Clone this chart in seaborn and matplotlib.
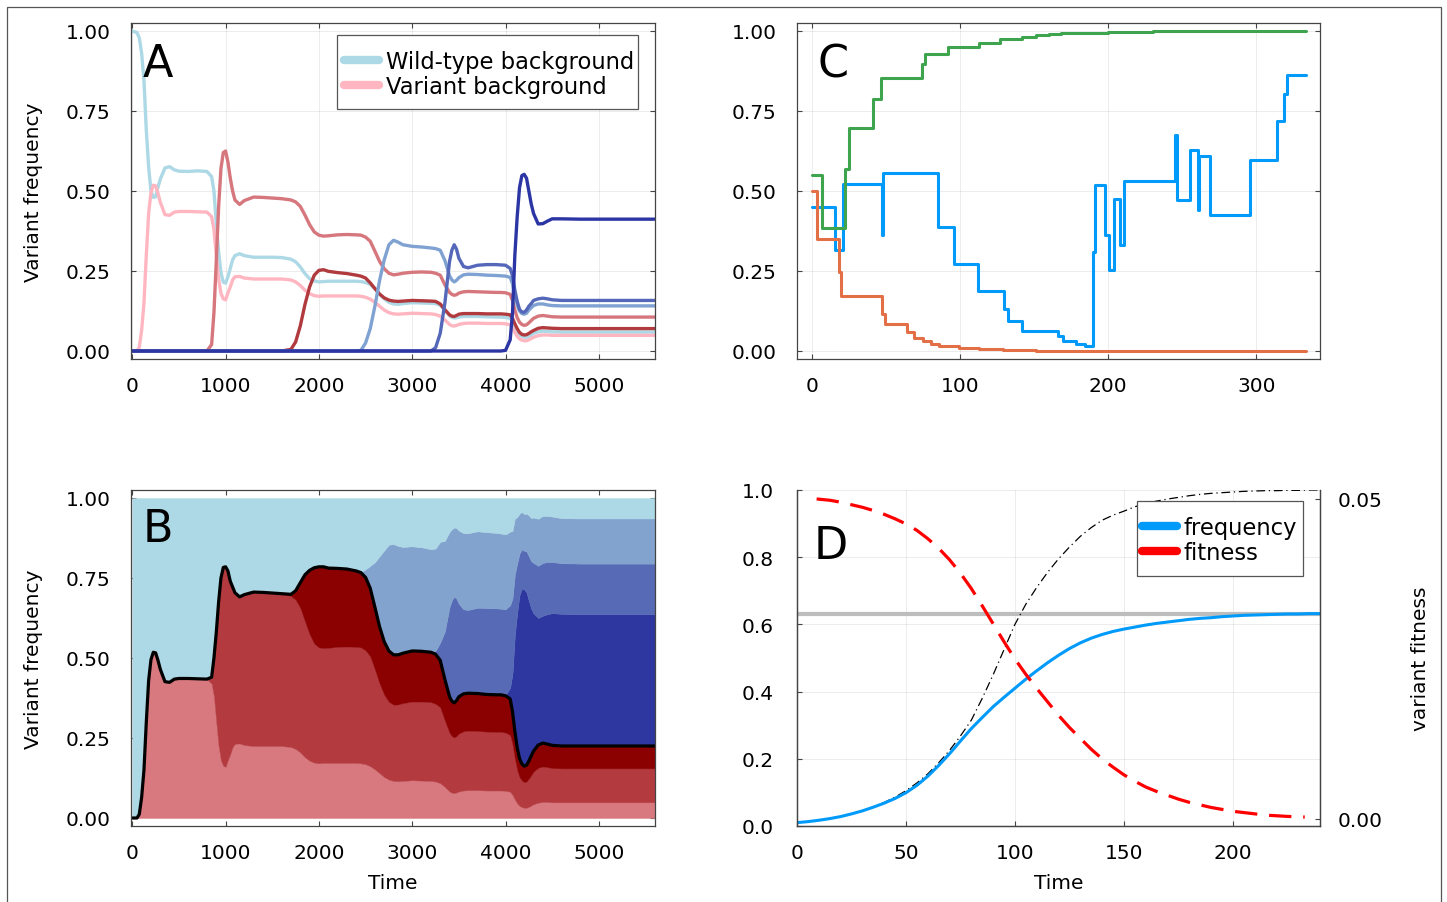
import numpy as np
import matplotlib
matplotlib.use("Agg")
import matplotlib.pyplot as plt
import seaborn as sns
from matplotlib.lines import Line2D
from matplotlib.patches import Rectangle
from matplotlib.ticker import FormatStrFormatter

# PANEL A / B : genotype frequencies over time
time = [0, 50, 75, 100, 125, 150, 175, 200, 225, 250,
        275, 300, 350, 400, 450, 500, 600, 700, 800,
        850, 875, 900, 925, 950, 975, 1000,
        1025, 1050, 1075, 1100, 1150, 1200,
        1300, 1400, 1500, 1600,
        1700, 1750, 1800, 1850, 1900, 1950, 2000,
        2050, 2100, 2200, 2300, 2400,
        2450, 2500, 2550, 2600, 2650, 2700, 2750, 2800, 2850, 2900,
        3000, 3100, 3200,
        3250, 3300, 3350, 3400, 3425, 3450, 3475, 3500, 3550, 3600,
        3700, 3800, 3900, 3950, 4000,
        4050, 4075, 4100, 4125, 4150, 4175, 4200, 4225, 4250, 4275, 4300,
        4350, 4400, 4450, 4500, 4600,
        4800, 5000, 5200, 5400, 5600]

wild_type = [1.000, 0.995, 0.978, 0.93, 0.845, 0.69, 0.575, 0.50, 0.48, 0.482,
             0.512, 0.537, 0.572, 0.576, 0.566, 0.562, 0.561, 0.563, 0.561,
             0.545, 0.50, 0.40, 0.31, 0.245, 0.215, 0.212,
             0.232, 0.258, 0.285, 0.298, 0.304, 0.298,
             0.293, 0.293, 0.293, 0.292,
             0.287, 0.279, 0.263, 0.242, 0.226, 0.219, 0.216,
             0.217, 0.218, 0.218, 0.218, 0.218,
             0.217, 0.214, 0.208, 0.195, 0.178, 0.163, 0.152, 0.147, 0.146, 0.148,
             0.151, 0.150, 0.149,
             0.148, 0.143, 0.127, 0.110, 0.105, 0.103, 0.104, 0.106, 0.108, 0.108,
             0.108, 0.107, 0.106, 0.106, 0.105,
             0.102, 0.09, 0.072, 0.06, 0.05, 0.045, 0.043, 0.043, 0.046, 0.05, 0.055,
             0.06, 0.062, 0.061, 0.06, 0.059,
             0.059, 0.059, 0.059, 0.059, 0.059]

variant_bg = [0, 0, 0.012, 0.065, 0.15, 0.30, 0.43, 0.495, 0.518, 0.516,
              0.493, 0.465, 0.426, 0.424, 0.434, 0.436, 0.436, 0.435, 0.434,
              0.42, 0.38, 0.30, 0.225, 0.18, 0.163, 0.16,
              0.182, 0.20, 0.222, 0.232, 0.233, 0.228,
              0.225, 0.225, 0.225, 0.225,
              0.222, 0.216, 0.205, 0.19, 0.179, 0.173, 0.171,
              0.172, 0.172, 0.172, 0.172, 0.172,
              0.171, 0.168, 0.162, 0.152, 0.14, 0.128, 0.12, 0.116, 0.115, 0.116,
              0.118, 0.117, 0.116,
              0.114, 0.109, 0.097, 0.083, 0.079, 0.078, 0.080, 0.083, 0.086, 0.087,
              0.087, 0.086, 0.086, 0.086, 0.085,
              0.082, 0.072, 0.058, 0.046, 0.038, 0.034, 0.032, 0.032, 0.035, 0.039, 0.043,
              0.048, 0.05, 0.05, 0.049, 0.049,
              0.049, 0.049, 0.049, 0.049, 0.049]

geno3 = [0, 0, 0, 0, 0, 0, 0, 0, 0, 0,
         0, 0, 0, 0, 0, 0, 0, 0, 0,
         0.02, 0.12, 0.28, 0.45, 0.57, 0.62, 0.625,
         0.59, 0.54, 0.50, 0.472, 0.458, 0.47,
         0.481, 0.48, 0.478, 0.476,
         0.472, 0.466, 0.452, 0.425, 0.395, 0.372, 0.362,
         0.359, 0.36, 0.363, 0.364, 0.363,
         0.362, 0.356, 0.343, 0.312, 0.28, 0.257, 0.243, 0.238, 0.24, 0.243,
         0.246, 0.247, 0.246,
         0.243, 0.237, 0.207, 0.183, 0.177, 0.174, 0.176, 0.181, 0.185, 0.186,
         0.185, 0.184, 0.183, 0.183, 0.182,
         0.177, 0.158, 0.128, 0.104, 0.09, 0.083, 0.08, 0.082, 0.088, 0.095, 0.102,
         0.109, 0.111, 0.109, 0.107, 0.106,
         0.106, 0.106, 0.106, 0.106, 0.106]

geno4 = [0, 0, 0, 0, 0, 0, 0, 0, 0, 0,
         0, 0, 0, 0, 0, 0, 0, 0, 0,
         0, 0, 0, 0, 0, 0, 0,
         0, 0, 0, 0, 0, 0,
         0, 0, 0, 0,
         0.005, 0.028, 0.078, 0.145, 0.20, 0.237, 0.252,
         0.254, 0.249, 0.245, 0.242, 0.237,
         0.234, 0.228, 0.213, 0.195, 0.178, 0.166, 0.159, 0.156, 0.155, 0.156,
         0.158, 0.157, 0.156,
         0.155, 0.147, 0.129, 0.113, 0.109, 0.108, 0.111, 0.115, 0.117, 0.117,
         0.117, 0.116, 0.116, 0.116, 0.115,
         0.113, 0.102, 0.085, 0.07, 0.058, 0.052, 0.05, 0.051, 0.055, 0.06, 0.064,
         0.071, 0.073, 0.072, 0.071, 0.07,
         0.07, 0.07, 0.07, 0.07, 0.07]

geno5 = [0, 0, 0, 0, 0, 0, 0, 0, 0, 0,
         0, 0, 0, 0, 0, 0, 0, 0, 0,
         0, 0, 0, 0, 0, 0, 0,
         0, 0, 0, 0, 0, 0,
         0, 0, 0, 0,
         0, 0, 0, 0, 0, 0, 0,
         0, 0, 0, 0, 0,
         0.002, 0.025, 0.07, 0.14, 0.22, 0.285, 0.332, 0.346, 0.34, 0.332,
         0.327, 0.325, 0.322,
         0.32, 0.315, 0.283, 0.235, 0.222, 0.216, 0.221, 0.229, 0.238, 0.24,
         0.239, 0.237, 0.236, 0.235, 0.234,
         0.23, 0.21, 0.175, 0.145, 0.125, 0.117, 0.115, 0.118, 0.128, 0.135, 0.142,
         0.147, 0.147, 0.144, 0.142, 0.141,
         0.141, 0.141, 0.141, 0.141, 0.141]

geno6 = [0, 0, 0, 0, 0, 0, 0, 0, 0, 0,
         0, 0, 0, 0, 0, 0, 0, 0, 0,
         0, 0, 0, 0, 0, 0, 0,
         0, 0, 0, 0, 0, 0,
         0, 0, 0, 0,
         0, 0, 0, 0, 0, 0, 0,
         0, 0, 0, 0, 0,
         0, 0, 0, 0, 0, 0, 0, 0, 0, 0,
         0, 0, 0,
         0.01, 0.055, 0.15, 0.28, 0.315, 0.332, 0.318, 0.29, 0.264, 0.26,
         0.268, 0.27, 0.27, 0.269, 0.268,
         0.258, 0.235, 0.19, 0.155, 0.13, 0.122, 0.121, 0.128, 0.14, 0.148, 0.158,
         0.163, 0.165, 0.163, 0.16, 0.158,
         0.158, 0.158, 0.158, 0.158, 0.158]

geno7 = [0, 0, 0, 0, 0, 0, 0, 0, 0, 0,
         0, 0, 0, 0, 0, 0, 0, 0, 0,
         0, 0, 0, 0, 0, 0, 0,
         0, 0, 0, 0, 0, 0,
         0, 0, 0, 0,
         0, 0, 0, 0, 0, 0, 0,
         0, 0, 0, 0, 0,
         0, 0, 0, 0, 0, 0, 0, 0, 0, 0,
         0, 0, 0,
         0, 0, 0, 0, 0, 0, 0, 0, 0, 0,
         0, 0, 0, 0, 0.002,
         0.035, 0.12, 0.30, 0.42, 0.51, 0.548, 0.552, 0.54, 0.50, 0.46, 0.43,
         0.397, 0.398, 0.406, 0.413, 0.413,
         0.412, 0.412, 0.412, 0.412, 0.412]

line_colors = ['#ADD8E6', '#FFB6C1', '#D6767D', '#B03A3E', '#7FA2D2', '#5467B8', '#2B35A3']
stack_colors = ['#D8787F', '#B33B40', '#8B0000', '#2E36A0', '#566AB6', '#82A3CE']
wild_fill = '#ADD8E6'

# PANEL C : stochastic trajectories (step functions)
c_time_blue = [0, 15.8, 21.2, 47.6, 48.2, 85, 96.2, 112, 130, 132.7, 142, 166.2, 169.6,
               178.6, 184.7, 190, 191, 197.7, 200.7, 203.8, 207.9, 210.8, 245, 246.5,
               255.2, 260.4, 261.5, 269, 296, 314, 318.7, 320.5, 333.3]
c_blue = [0.45, 0.315, 0.521, 0.361, 0.556, 0.3875, 0.271, 0.1875, 0.13, 0.093, 0.0625,
          0.046, 0.031, 0.023, 0.015, 0.309, 0.518, 0.361, 0.252, 0.476, 0.332, 0.531,
          0.674, 0.471, 0.629, 0.442, 0.609, 0.426, 0.598, 0.719, 0.802, 0.861, 0.861]
c_time_green = [0, 7, 22.5, 25.2, 41.4, 46.6, 74.3, 76.6, 91.7, 113, 127, 142, 151, 160,
                168, 185, 200, 230, 333.3]
c_green = [0.551, 0.384, 0.57, 0.698, 0.789, 0.853, 0.898, 0.929, 0.95, 0.964, 0.974,
           0.981, 0.986, 0.99, 0.993, 0.995, 0.997, 0.999, 0.999]
c_time_orange = [0, 3.2, 18.5, 20, 47.7, 49.5, 64, 69, 75, 80.4, 85.6, 99.5, 113, 129,
                 151, 175, 333.3]
c_orange = [0.5, 0.349, 0.247, 0.172, 0.117, 0.085, 0.059, 0.042, 0.03, 0.023, 0.016,
            0.010, 0.005, 0.003, 0.0015, 0.0, 0.0]

# PANEL D : frequency vs fitness
d_time = [0, 5, 10, 15, 20, 25, 30, 35, 40, 45, 50, 55, 60, 65, 70, 75, 80, 85, 90, 95,
          100, 105, 110, 115, 120, 125, 130, 135, 140, 145, 150, 155, 160, 165, 170,
          175, 180, 185, 190, 195, 200, 205, 210, 215, 220, 225, 230, 235, 240]
d_frequency = [0.010, 0.013, 0.017, 0.022, 0.028, 0.036, 0.045, 0.056, 0.068, 0.082,
               0.099, 0.121, 0.148, 0.18, 0.215, 0.253, 0.29, 0.323, 0.355, 0.383,
               0.41, 0.437, 0.462, 0.486, 0.508, 0.528, 0.545, 0.559, 0.57, 0.579,
               0.586, 0.592, 0.598, 0.603, 0.607, 0.611, 0.615, 0.618, 0.62, 0.623,
               0.625, 0.627, 0.628, 0.629, 0.63, 0.631, 0.631, 0.632, 0.632]
d_logistic = [0.010, 0.013, 0.017, 0.022, 0.028, 0.036, 0.045, 0.057, 0.070, 0.086,
              0.105, 0.128, 0.155, 0.188, 0.225, 0.268, 0.315, 0.38, 0.45, 0.525,
              0.60, 0.66, 0.71, 0.755, 0.795, 0.83, 0.862, 0.888, 0.91, 0.925,
              0.937, 0.95, 0.96, 0.967, 0.973, 0.978, 0.983, 0.987, 0.99, 0.992,
              0.994, 0.996, 0.997, 0.998, 0.998, 0.999, 0.999, 1.0, 1.0]
d_fit_time = [9, 15, 20, 25, 30, 35, 40, 45, 50, 55, 60, 65, 70, 75, 80, 85, 90, 95,
              100, 105, 110, 115, 120, 125, 130, 135, 140, 145, 150, 155, 160, 165,
              170, 175, 180, 185, 190, 195, 200, 205, 210, 215, 220, 225, 233]
d_fitness = [0.0500, 0.0498, 0.0495, 0.0491, 0.0487, 0.0482, 0.0476, 0.0469, 0.0461,
             0.0451, 0.0438, 0.0423, 0.0405, 0.0384, 0.0360, 0.0333, 0.0305, 0.0277,
             0.0250, 0.0226, 0.0204, 0.0183, 0.0162, 0.0143, 0.0126, 0.0109, 0.0094,
             0.0081, 0.0069, 0.0059, 0.0050, 0.0043, 0.0037, 0.0031, 0.0026, 0.0022,
             0.0018, 0.0015, 0.0012, 0.0010, 0.0008, 0.0006, 0.0005, 0.0004, 0.0003]
d_plateau = 0.632

sns.set_theme(style="white")
plt.rcParams['font.family'] = ['DejaVu Sans']
plt.rcParams['text.color'] = 'black'
plt.rcParams['axes.labelcolor'] = 'black'

W, H = 1447, 903
fig = plt.figure(figsize=(W / 100, H / 100), dpi=100)
fig.patch.set_facecolor('white')


def ax_at(left, top, right, bottom):
    return fig.add_axes([left / W, 1 - bottom / H, (right - left) / W, (bottom - top) / H])


def box_style(ax, mirror=True):
    for s in ax.spines.values():
        s.set_color('#444444')
        s.set_linewidth(0.9)
    ax.tick_params(direction='in', length=3.5, width=0.8, colors='#444444',
                   labelcolor='black', labelsize=14.5,
                   top=mirror, right=mirror, bottom=True, left=True)
    ax.tick_params(axis='x', pad=12)
    ax.tick_params(axis='y', pad=14.5)
    ax.grid(True, color='black', alpha=0.09, lw=0.6)
    ax.set_axisbelow(True)


def add_legend(ax, colors, labels, box, handle_x, mid_y):
    # box drawn like the Plots.jl legend frame, entries placed inside it
    x0, y0, x1, y1 = box
    ax.add_patch(Rectangle((x0, y0), x1 - x0, y1 - y0, transform=ax.transAxes,
                           facecolor='white', edgecolor='#555555', lw=0.9, zorder=4))
    handles = [Line2D([0], [0], color=c, lw=6, solid_capstyle='round') for c in colors]
    ax.legend(handles, labels, loc='center left', bbox_to_anchor=(handle_x, mid_y),
              fontsize=16.3, frameon=False, handlelength=1.55, handletextpad=0.29,
              borderpad=0, labelspacing=0.08, borderaxespad=0)


freq_ticks = [0, 0.25, 0.5, 0.75, 1.0]

# ---- A
axA = ax_at(131, 24, 655, 360)
series = [wild_type, variant_bg, geno3, geno4, geno5, geno6, geno7]
for vals, col in zip(series, line_colors):
    sns.lineplot(x=time, y=vals, ax=axA, color=col, lw=2.4, estimator=None, legend=False)
axA.set_xlim(-14, 5602)
axA.set_ylim(-0.025, 1.025)
axA.set_xticks([0, 1000, 2000, 3000, 4000, 5000])
axA.set_yticks(freq_ticks)
axA.yaxis.set_major_formatter(FormatStrFormatter('%.2f'))
box_style(axA)
axA.set_ylabel('Variant frequency', fontsize=14.5, labelpad=16.5)
axA.text(0.023, 0.842, 'A', transform=axA.transAxes, fontsize=32, va='baseline')
add_legend(axA, line_colors[:2], ['Wild-type background', 'Variant background'],
           (0.3931, 0.744, 0.9676, 0.964), 0.4065, 0.849)

# ---- B
axB = ax_at(131, 491, 655, 827)
axB.stackplot(time, variant_bg, geno3, geno4, geno7, geno6, geno5,
              colors=stack_colors, lw=0.3, edgecolor='face')
lower = np.sum([variant_bg, geno3, geno4, geno7, geno6, geno5], axis=0)
axB.fill_between(time, lower, 1.0, color=wild_fill, lw=0.3, edgecolor='face')
variant_total = np.sum([variant_bg, geno3, geno4], axis=0)
sns.lineplot(x=time, y=variant_total, ax=axB, color='black', lw=2.3, estimator=None,
             legend=False)
axB.set_xlim(-14, 5602)
axB.set_ylim(-0.025, 1.025)
axB.set_xticks([0, 1000, 2000, 3000, 4000, 5000])
axB.set_yticks(freq_ticks)
axB.yaxis.set_major_formatter(FormatStrFormatter('%.2f'))
box_style(axB)
axB.grid(False)
axB.set_ylabel('Variant frequency', fontsize=14.5, labelpad=16.5)
axB.set_xlabel('Time', fontsize=14.5, labelpad=8)
axB.text(0.023, 0.848, 'B', transform=axB.transAxes, fontsize=32, va='baseline')

# ---- C
axC = ax_at(797, 24, 1320, 360)
for tt, vv, col in [(c_time_blue, c_blue, '#009AFA'),
                    (c_time_orange, c_orange, '#E36F47'),
                    (c_time_green, c_green, '#3EA44E')]:
    sns.lineplot(x=tt, y=vv, ax=axC, color=col, lw=2.2, drawstyle='steps-post',
                 estimator=None, legend=False)
axC.set_xlim(-10, 343)
axC.set_ylim(-0.025, 1.025)
axC.set_xticks([0, 100, 200, 300])
axC.set_yticks(freq_ticks)
axC.yaxis.set_major_formatter(FormatStrFormatter('%.2f'))
box_style(axC)
axC.text(0.040, 0.842, 'C', transform=axC.transAxes, fontsize=32, va='baseline')

# ---- D
axD = ax_at(797, 491, 1320, 827)
axD.axhline(d_plateau, color='#BDBDBD', lw=3.0, zorder=1)
sns.lineplot(x=d_time, y=d_logistic, ax=axD, color='black', lw=0.9,
             linestyle=(0, (7, 3, 1, 3)), estimator=None, legend=False)
sns.lineplot(x=d_time, y=d_frequency, ax=axD, color='#009AFA', lw=2.2,
             estimator=None, legend=False)
axD.set_xlim(0, 240)
axD.set_ylim(0, 1)
axD.set_xticks([0, 50, 100, 150, 200])
axD.set_yticks([0, 0.2, 0.4, 0.6, 0.8, 1.0])
axD.yaxis.set_major_formatter(FormatStrFormatter('%.1f'))
box_style(axD, mirror=False)
axD.tick_params(axis='y', pad=16.5)
axD.spines['top'].set_visible(False)
axD.set_xlabel('Time', fontsize=14.5, labelpad=8)
axD.text(0.031, 0.798, 'D', transform=axD.transAxes, fontsize=32, va='baseline')

axD2 = axD.twinx()
sns.lineplot(x=d_fit_time, y=d_fitness, ax=axD2, color='#FF0000', lw=2.3,
             linestyle=(0, (7, 3.7)), estimator=None, legend=False)
axD2.set_ylim(-0.0011, 0.0514)
axD2.set_yticks([0, 0.05])
axD2.yaxis.set_major_formatter(FormatStrFormatter('%.2f'))
for s in axD2.spines.values():
    s.set_color('#444444')
    s.set_linewidth(0.9)
axD2.spines['top'].set_visible(False)
axD2.tick_params(axis='y', direction='in', length=3.5, width=0.8, colors='#444444',
                 labelcolor='black', labelsize=14.5, pad=13)
axD2.grid(False)
axD2.set_ylabel('variant fitness', fontsize=14.5, labelpad=20)
add_legend(axD2, ['#009AFA', '#FF0000'], ['frequency', 'fitness'],
           (0.650, 0.744, 0.9675, 0.967), 0.6597, 0.852)

# outer frame
fig.add_artist(Rectangle((7 / W, -0.05), (1441 - 7) / W, 1 - 8 / H + 0.05,
                         transform=fig.transFigure, fill=False,
                         edgecolor='#555555', lw=0.9))

fig.savefig('out.png', dpi=100)
